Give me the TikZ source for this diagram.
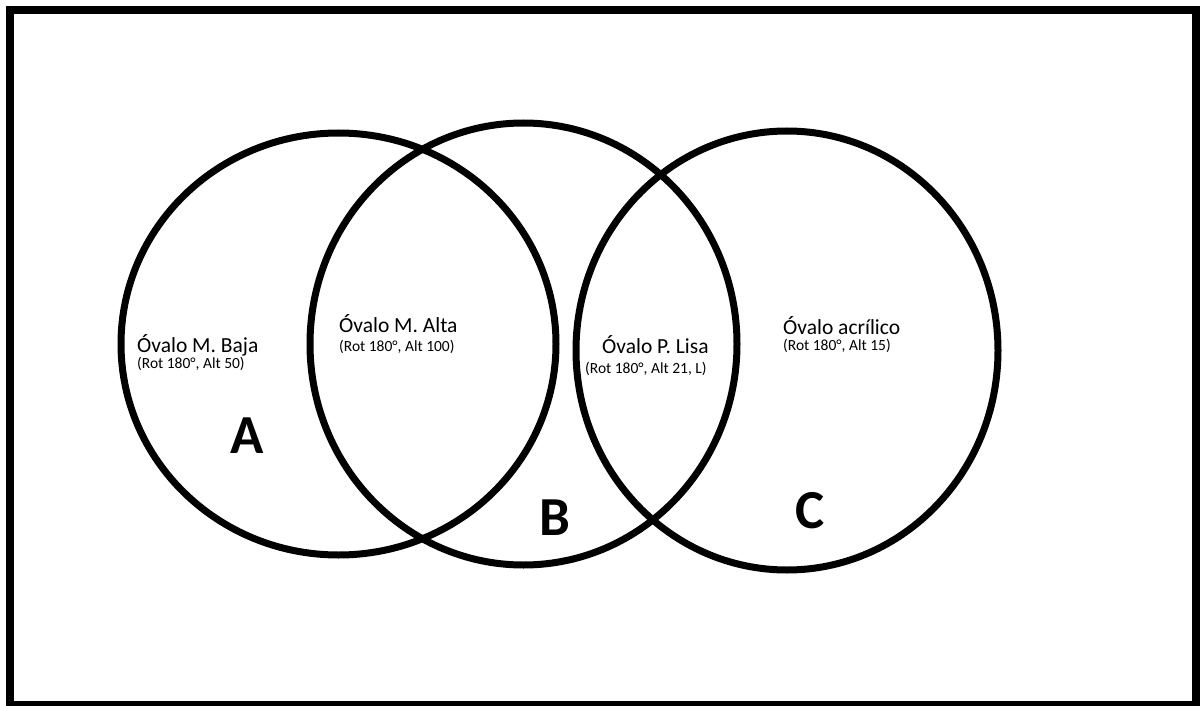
\documentclass[tikz,border=0pt]{standalone}
\usepackage{fontspec}
\setmainfont{Carlito}
\begin{document}
\begin{tikzpicture}[x=1pt,y=-1pt,
  ring/.style={draw=black,line width=7pt},
  maintxt/.style={anchor=base west,inner sep=0pt,font=\fontsize{21.5}{24}\selectfont},
  subtxt/.style={anchor=base west,inner sep=0pt,font=\fontsize{15.5}{17}\selectfont},
  biglet/.style={anchor=base west,inner sep=0pt,font=\fontsize{55}{60}\selectfont\bfseries}]
\useasboundingbox (0,0) rectangle (1200,706);
\fill[white] (0,0) rectangle (1200,706);
\draw[line width=8pt] (10,10) rectangle (1196,705);
\draw[ring] (338.5,344) ellipse [x radius=217.5,y radius=211];
\draw[ring] (523.5,344) ellipse [x radius=213.5,y radius=221];
\draw[ring] (787,350.5) ellipse [x radius=211,y radius=219.5];
\node[maintxt] (ta) at (137,352) {Óvalo M. Baja};
\node[subtxt] (sa) at (137,368) {(Rot 180°, Alt 50)};
\node[maintxt] (tb) at (339,332) {Óvalo M. Alta};
\node[subtxt] (sb) at (339,351) {(Rot 180°, Alt 100)};
\node[maintxt] (tl) at (602,353) {Óvalo P. Lisa};
\node[subtxt] (sl) at (585,373) {(Rot 180°, Alt 21, L)};
\node[maintxt] (tc) at (783,334) {Óvalo acrílico};
\node[subtxt] (sc) at (783,350) {(Rot 180°, Alt 15)};
\node[biglet] (la) at (230,453) {A};
\node[biglet] (lb) at (539,535) {B};
\node[biglet] (lc) at (795,528) {C};
\end{tikzpicture}
\end{document}
